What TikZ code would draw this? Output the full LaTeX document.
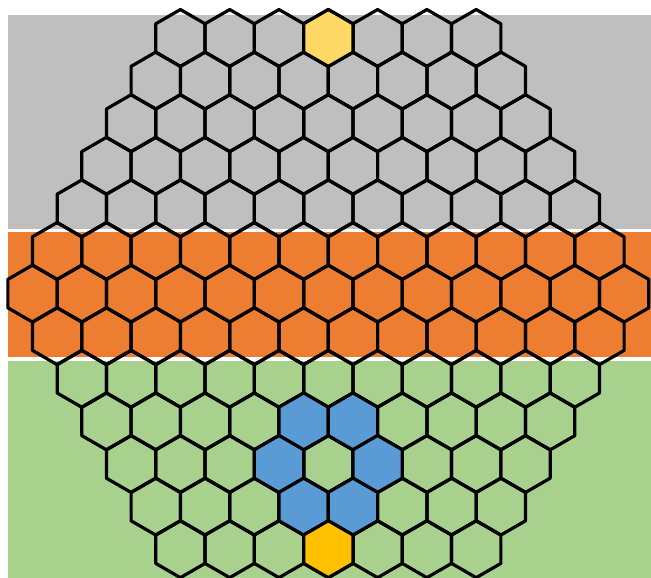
\documentclass[tikz,border=0pt]{standalone}
\definecolor{bandgray}{HTML}{BFBFBF}
\definecolor{bandorange}{HTML}{ED7D31}
\definecolor{bandgreen}{HTML}{A9D18E}
\definecolor{cellblue}{HTML}{5B9BD5}
\definecolor{celltop}{HTML}{FFD966}
\definecolor{cellgold}{HTML}{FFC000}
\newcommand{\hexcell}[3]{%
  \pgfmathtruncatemacro\hd{min(#1,12-#1)}%
  \pgfmathsetmacro\hx{328.3+(#2-(6+\hd)/2)*49.3}%
  \pgfmathsetmacro\hy{540-42.6*#1}%
  \path[hexline,#3] (\hx,\hy) +(90:28.46) -- +(30:28.46) -- +(-30:28.46) -- +(-90:28.46) -- +(-150:28.46) -- +(150:28.46) -- cycle;}
\begin{document}
\begin{tikzpicture}[x=1pt,y=1pt,
  hexline/.style={draw=black,line width=3.2pt,line join=round}]
\useasboundingbox (0,0) rectangle (651,578);
\fill[bandgray] (8,563) rectangle (651,349);
\fill[bandorange] (8,346) rectangle (651,221);
\fill[bandgreen] (8,217) rectangle (651,0);
\foreach \i in {0,...,12}{
  \pgfmathtruncatemacro\dd{min(\i,12-\i)}
  \pgfmathtruncatemacro\mm{6+\dd}
  \foreach \k in {0,...,\mm}{\hexcell{\i}{\k}{}}
}
\hexcell{0}{3}{fill=celltop}
\hexcell{9}{4}{fill=cellblue}
\hexcell{9}{5}{fill=cellblue}
\hexcell{10}{3}{fill=cellblue}
\hexcell{10}{5}{fill=cellblue}
\hexcell{11}{3}{fill=cellblue}
\hexcell{11}{4}{fill=cellblue}
\hexcell{12}{3}{fill=cellgold}
\end{tikzpicture}
\end{document}
